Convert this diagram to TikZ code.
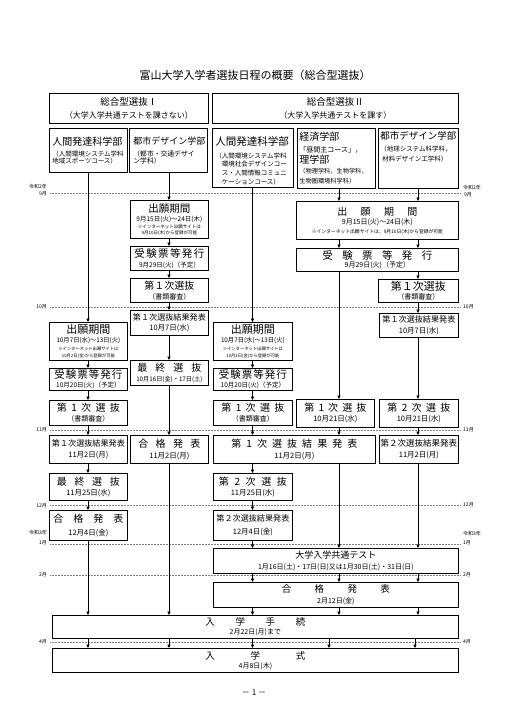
\documentclass[tikz,border=0pt]{standalone}
\usepackage{fontspec}
\setmainfont{Noto Sans CJK JP}
\usetikzlibrary{arrows.meta}
\newcommand\fsz[2]{{\fontsize{#1}{#1}\selectfont #2}}
\newcommand\sprd[2]{\makebox[#1pt][s]{#2}}
\tikzset{
  bx/.style={draw=black, line width=0.8pt, fill=white, inner sep=0pt, anchor=north west, align=center, font=\fontsize{7}{0}\selectfont},
  hbx/.style={bx, align=left},
  arr/.style={-{Triangle[length=3.5pt,width=3.2pt]}, line width=0.6pt},
  mline/.style={gray, densely dotted, line width=0.5pt},
  lblL/.style={anchor=east, inner sep=0pt, font=\fontsize{5}{5}\selectfont},
  lblR/.style={anchor=west, inner sep=0pt, font=\fontsize{5}{5}\selectfont},
  ttl/.style={inner sep=0pt},
}
\begin{document}
\begin{tikzpicture}[x=1pt,y=-1pt]
\useasboundingbox (0,0) rectangle (509,720);
% column coordinates
\coordinate (X1) at (88,0);
\coordinate (X2) at (169,0);
\coordinate (X3) at (252.5,0);
\coordinate (X4) at (339,0);
\coordinate (X5) at (418,0);
\coordinate (B4) at (329,0);
\coordinate (B5) at (415,0);
% month lines
\foreach \yy in {193,307,430,505,544,575,642} \draw[mline] (50,\yy) -- (460,\yy);
% month labels left
\node[lblL] (lA) at (47,187) {令和2年};
\node[lblL] (lB) at (47,193.5) {9月};
\node[lblL] (lC) at (47,307) {10月};
\node[lblL] (lD) at (47,429.5) {11月};
\node[lblL] (lE) at (47,505.5) {12月};
\node[lblL] (lF) at (47,533) {令和3年};
\node[lblL] (lG) at (47,543) {1月};
\node[lblL] (lH) at (47,575) {2月};
\node[lblL] (lI) at (47,642) {4月};
% month labels right
\node[lblR] (rA) at (463,188) {令和2年};
\node[lblR] (rB) at (464,195) {9月};
\node[lblR] (rC) at (463,307) {10月};
\node[lblR] (rD) at (463,429.5) {11月};
\node[lblR] (rE) at (463,505) {12月};
\node[lblR] (rF) at (463,534) {令和3年};
\node[lblR] (rG) at (463,543) {1月};
\node[lblR] (rH) at (463,575) {2月};
\node[lblR] (rI) at (463,642) {4月};
% title
\node[ttl] (title) at (255,75) {\fsz{11}{富山大学入学者選抜日程の概要（総合型選抜）}};
% headers
\node[bx, minimum width=159pt, minimum height=30pt] (hI) at (49,93) {\fsz{9.5}{総合型選抜Ⅰ}\\[3.5pt]\fsz{8}{（大学入学共通テストを課さない）}};
\node[bx, minimum width=246pt, minimum height=30pt] (hII) at (212,93) {\fsz{9.5}{総合型選抜Ⅱ}\\[3.5pt]\fsz{8}{（大学入学共通テストを課す）}};
\node[hbx, text width=72pt, inner xsep=3pt, minimum width=78pt, minimum height=44pt] (c1h) at (49,128)
 {\fsz{10}{人間発達科学部}\\[4pt]\fsz{6.5}{（人間環境システム学科}\\[0pt]\fsz{6.5}{地域スポーツコース）}};
\node[hbx, text width=70pt, inner xsep=4pt, minimum width=78pt, minimum height=44pt] (c2h) at (129,128)
 {\fsz{9}{都市デザイン学部}\\[4.5pt]\fsz{6.8}{（都市・交通デザイ}\\[0pt]\fsz{6.8}{ン学科）}};
\node[hbx, text width=75pt, inner xsep=3pt, minimum width=81pt, minimum height=59pt] (c3h) at (212,128)
 {\mbox{}\\[5pt]\fsz{10.5}{人間発達科学部}\\[4.8pt]\fsz{6.5}{（人間環境システム学科}\\[1.6pt]\fsz{6.5}{\hspace*{6.5pt}環境社会デザインコー}\\[1.6pt]\fsz{6.5}{\hspace*{6.5pt}ス・人間情報コミュニ}\\[1.6pt]\fsz{6.5}{\hspace*{6.5pt}ケーションコース）}};
\node[hbx, text width=74pt, inner xsep=2pt, minimum width=78pt, minimum height=60pt] (c4h) at (297,128)
 {\fsz{10}{経済学部}\\[3.8pt]\fsz{7}{「昼間主コース」，}\\[0.8pt]\fsz{10}{理学部}\\[3.2pt]\fsz{6.2}{（物理学科，生物学科，}\\[3pt]\fsz{6.2}{生物圏環境科学科）}};
\node[hbx, text width=76pt, inner xsep=2pt, minimum width=80pt, minimum height=60pt] (c5h) at (378,128)
 {\fsz{9.5}{都市デザイン学部}\\[4.2pt]\fsz{6.5}{（地球システム科学科，}\\[2.6pt]\fsz{6.5}{\hspace*{2pt}材料デザイン工学科）}\\[22pt]\mbox{}};
% column 2
\node[bx, minimum width=78pt, minimum height=38pt] (c2a) at (130,200)
 {\fsz{10.5}{出願期間}\\[1.8pt]\fsz{6.5}{9月15日(火)～24日(木)}\\[1.6pt]\fsz{4.5}{※インターネット出願サイトは}\\[0.6pt]\fsz{4.5}{9月10日(木)から登録が可能}};
\node[bx, minimum width=78pt, minimum height=24pt] (c2b) at (130,246)
 {\fsz{10.5}{\sprd{70}{受\hfill 験\hfill 票\hfill 等\hfill 発\hfill 行}}\\[2.8pt]\fsz{6.5}{9月29日(火)（予定）}};
\node[bx, minimum width=78pt, minimum height=24pt] (c2c) at (130,278)
 {\fsz{10}{第１次選抜}\\[1.8pt]\fsz{7}{（書類審査）}};
\node[bx, minimum width=78pt, minimum height=25pt] (c2d) at (130,310)
 {\fsz{8.1}{第１次選抜結果発表}\\[2.4pt]\fsz{7.5}{10月7日(水)}};
\node[bx, minimum width=78pt, minimum height=25pt] (c2e) at (130,360)
 {\fsz{10}{\sprd{64}{最\hfill 終\hfill 選\hfill 抜}}\\[2.5pt]\fsz{6.2}{10月16日(金)・17日(土)}};
\node[bx, minimum width=78pt, minimum height=28pt] (c2f) at (130,435)
 {\fsz{10}{\sprd{62}{合\hfill 格\hfill 発\hfill 表}}\\[2.5pt]\fsz{7.5}{11月2日(月)}};
% column 1
\node[bx, minimum width=78pt, minimum height=38pt] (c1a) at (49,322)
 {\fsz{11}{出願期間}\\[1.6pt]\fsz{6.3}{10月7日(水)～13日(火)}\\[2.8pt]\fsz{4.3}{※インターネット出願サイトは}\\[1.8pt]\fsz{4.3}{10月2日(金)から登録が可能}};
\node[bx, minimum width=78pt, minimum height=22pt] (c1b) at (49,368)
 {\fsz{10.5}{\sprd{68}{受\hfill 験\hfill 票\hfill 等\hfill 発\hfill 行}}\\[1.8pt]\fsz{6.5}{10月20日(火)（予定）}};
\node[bx, minimum width=78pt, minimum height=25pt] (c1c) at (49,400)
 {\fsz{10}{\sprd{63}{第\hfill 1\hfill 次\hfill 選\hfill 抜}}\\[1.8pt]\fsz{7}{（書類審査）}};
\node[bx, minimum width=78pt, minimum height=28pt] (c1d) at (49,435)
 {\fsz{8.1}{第１次選抜結果発表}\\[3.4pt]\fsz{7.5}{11月2日(月)}};
\node[bx, minimum width=78pt, minimum height=27pt] (c1e) at (49,473)
 {\fsz{10}{\sprd{63}{最\hfill 終\hfill 選\hfill 抜}}\\[2pt]\fsz{7.5}{11月25日(水)}};
\node[bx, minimum width=78pt, minimum height=30pt] (c1f) at (49,510)
 {\fsz{10}{\sprd{70}{合\hfill 格\hfill 発\hfill 表}}\\[5.5pt]\fsz{7.5}{12月4日(金)}};
% column 3
\node[bx, minimum width=79pt, minimum height=38pt] (c3a) at (213,322)
 {\fsz{11}{出願期間}\\[1.6pt]\fsz{6.3}{10月7日(水)～13日(火)}\\[2.8pt]\fsz{4.3}{※インターネット出願サイトは}\\[1.8pt]\fsz{4.3}{10月2日(金)から登録が可能}};
\node[bx, minimum width=79pt, minimum height=22pt] (c3b) at (213,368)
 {\fsz{10.5}{\sprd{68}{受\hfill 験\hfill 票\hfill 等\hfill 発\hfill 行}}\\[1.8pt]\fsz{6.5}{10月20日(火)（予定）}};
\node[bx, minimum width=79pt, minimum height=25pt] (c3c) at (213,400)
 {\fsz{10}{\sprd{63}{第\hfill 1\hfill 次\hfill 選\hfill 抜}}\\[1.8pt]\fsz{7}{（書類審査）}};
\node[bx, minimum width=162pt, minimum height=28pt] (c34d) at (213,435)
 {\fsz{10}{\sprd{126}{第\hfill 1\hfill 次\hfill 選\hfill 抜\hfill 結\hfill 果\hfill 発\hfill 表}}\\[2.5pt]\fsz{7.5}{11月2日(月)}};
\node[bx, minimum width=79pt, minimum height=27pt] (c3e) at (213,473)
 {\fsz{10}{\sprd{68}{第\hfill 2\hfill 次\hfill 選\hfill 抜}}\\[2pt]\fsz{7.5}{11月25日(水)}};
\node[bx, minimum width=79pt, minimum height=30pt] (c3f) at (213,510)
 {\fsz{8.1}{第２次選抜結果発表}\\[5.4pt]\fsz{7.5}{12月4日(金)}};
% columns 4-5
\node[bx, minimum width=162pt, minimum height=38pt] (c45a) at (296,201)
 {\fsz{10}{\sprd{80}{出\hfill 願\hfill 期\hfill 間}}\\[1.8pt]\fsz{7}{9月15日(火)～24日(木)}\\[2.2pt]\fsz{4.8}{※インターネット出願サイトは，9月10日(木)から登録が可能}};
\node[bx, minimum width=162pt, minimum height=23pt] (c45b) at (296,248)
 {\fsz{10.5}{\sprd{110}{受\hfill 験\hfill 票\hfill 等\hfill 発\hfill 行}}\\[0.8pt]\fsz{7}{9月29日(火)（予定）}};
\node[bx, minimum width=80pt, minimum height=23pt] (c5c) at (378,279)
 {\fsz{11}{第１次選抜}\\[1.3pt]\fsz{7}{（書類審査）}};
\node[bx, minimum width=79pt, minimum height=24pt] (c5d) at (379,313)
 {\fsz{8.1}{第１次選抜結果発表}\\[3.2pt]\fsz{7.5}{10月7日(水)}};
\node[bx, minimum width=78pt, minimum height=28pt] (c4c) at (296,399)
 {\fsz{10}{\sprd{62}{第\hfill 1\hfill 次\hfill 選\hfill 抜}}\\[1.8pt]\fsz{7.5}{10月21日(水)}};
\node[bx, minimum width=79pt, minimum height=28pt] (c5e) at (379,399)
 {\fsz{10}{\sprd{63}{第\hfill 2\hfill 次\hfill 選\hfill 抜}}\\[1.8pt]\fsz{7.5}{10月21日(水)}};
\node[bx, minimum width=79pt, minimum height=28pt] (c5f) at (379,435)
 {\fsz{8.5}{第２次選抜結果発表}\\[3.2pt]\fsz{7.5}{11月2日(月)}};
% common
\node[bx, minimum width=245pt, minimum height=25pt] (kt) at (213,548)
 {\fsz{9}{大学入学共通テスト}\\[3.3pt]\fsz{7}{1月16日(土)・17日(日)又は1月30日(土)・31日(日)}};
\node[bx, minimum width=245pt, minimum height=25pt] (kg) at (213,582)
 {\fsz{9.5}{\sprd{108}{合\hfill 格\hfill 発\hfill 表}}\\[3pt]\fsz{7}{2月12日(金)}};
\node[bx, minimum width=406pt, minimum height=23pt] (nt) at (52,615)
 {\fsz{9.5}{\sprd{100}{入\hfill 学\hfill 手\hfill 続}}\\[2pt]\fsz{7}{2月22日(月)まで}};
\node[bx, minimum width=406pt, minimum height=24pt] (ns) at (52,648)
 {\fsz{9.5}{\sprd{100}{入\hfill 学\hfill 式}}\\[1pt]\fsz{7}{4月8日(木)}};
% page number
\node[ttl] (pg) at (254,693) {\fsz{8}{－ 1 －}};
% connectors column 1
\draw[arr] (c1h.south -| X1) -- (c1a.north -| X1);
\draw[arr] (c1a.south -| X1) -- (c1b.north -| X1);
\draw[arr] (c1b.south -| X1) -- (c1c.north -| X1);
\draw[arr] (c1c.south -| X1) -- (c1d.north -| X1);
\draw[arr] (c1d.south -| X1) -- (c1e.north -| X1);
\draw[arr] (c1e.south -| X1) -- (c1f.north -| X1);
\draw[arr] (c1f.south -| X1) -- (nt.north -| X1);
% column 2
\draw[arr] (c2h.south -| X2) -- (c2a.north -| X2);
\draw[arr] (c2a.south -| X2) -- (c2b.north -| X2);
\draw[arr] (c2b.south -| X2) -- (c2c.north -| X2);
\draw[arr] (c2c.south -| X2) -- (c2d.north -| X2);
\draw[arr] (c2d.south -| X2) -- (c2e.north -| X2);
\draw[arr] (c2e.south -| X2) -- (c2f.north -| X2);
\draw[arr] (c2f.south -| X2) -- (nt.north -| X2);
% column 3
\draw[arr] (c3h.south -| X3) -- (c3a.north -| X3);
\draw[arr] (c3a.south -| X3) -- (c3b.north -| X3);
\draw[arr] (c3b.south -| X3) -- (c3c.north -| X3);
\draw[arr] (c3c.south -| X3) -- (c34d.north -| X3);
\draw[arr] (c34d.south -| X3) -- (c3e.north -| X3);
\draw[arr] (c3e.south -| X3) -- (c3f.north -| X3);
\draw[arr] (c3f.south -| X3) -- (kt.north -| X3);
% column 4
\draw[arr] (c4h.south -| X4) -- (c45a.north -| X4);
\draw[arr] (c45a.south -| X4) -- (c45b.north -| X4);
\draw[arr] (c45b.south -| X4) -- (c4c.north -| X4);
\draw[arr] (c4c.south -| X4) -- (c34d.north -| X4);
\draw[arr] (c34d.south -| X4) -- (kt.north -| X4);
% column 5
\draw[arr] (c5h.south -| X5) -- (c45a.north -| X5);
\draw[arr] (c45a.south -| X5) -- (c45b.north -| X5);
\draw[arr] (c45b.south -| X5) -- (c5c.north -| X5);
\draw[arr] (c5c.south -| X5) -- (c5d.north -| X5);
\draw[arr] (c5d.south -| X5) -- (c5e.north -| X5);
\draw[arr] (c5e.south -| X5) -- (c5f.north -| X5);
\draw[arr] (c5f.south -| X5) -- (kt.north -| X5);
% common
\foreach \cc in {X3,X4,X5} {
  \draw[arr] (kt.south -| \cc) -- (kg.north -| \cc);
  \draw[arr] (kg.south -| \cc) -- (nt.north -| \cc);
}
\foreach \cc in {X1,X2,X3,B4,B5}
  \draw[arr] (nt.south -| \cc) -- (ns.north -| \cc);
\end{tikzpicture}
\end{document}
